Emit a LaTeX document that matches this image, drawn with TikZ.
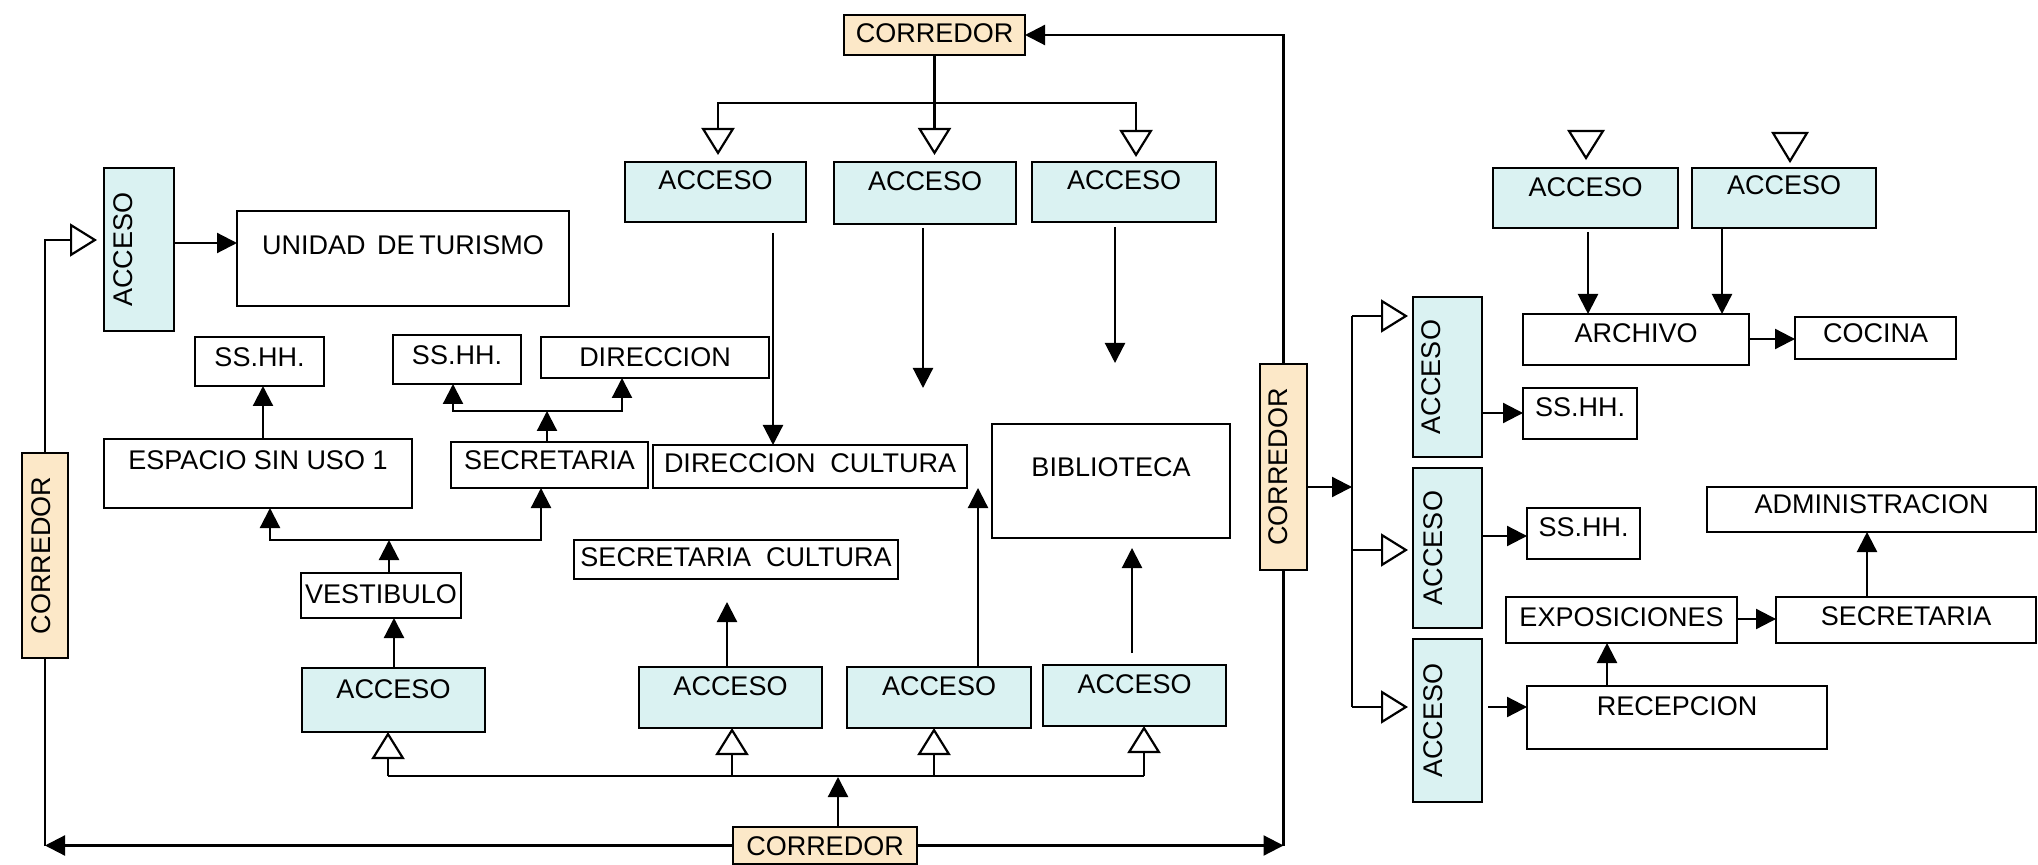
\documentclass[tikz,border=0pt]{standalone}
\usepackage{fontspec}
\setmainfont{Liberation Sans}
\usetikzlibrary{arrows.meta}
\definecolor{accfill}{RGB}{218,242,242}
\definecolor{corfill}{RGB}{252,232,200}
\newcommand\roomfont{\fontsize{13.5}{16}\selectfont}
% horizontal box: name, x1, y1, x2, y2, baseline y, style, text
\newcommand\roomH[8]{%
  \pgfmathsetmacro\rmW{(#4-#2)*0.5}%
  \pgfmathsetmacro\rmH{(#6-#3)*0.5}%
  \pgfmathsetmacro\rmD{(#5-#6)*0.5}%
  \node[#7, anchor=north west, minimum width=\rmW pt, text height=\rmH pt, text depth=\rmD pt] (#1) at (#2,#3) {#8};}
% vertical box (text rotated): name, x1, y1, x2, y2, baseline x, style, text
\newcommand\roomV[8]{%
  \pgfmathsetmacro\rmW{(#5-#3)*0.5}%
  \pgfmathsetmacro\rmH{(#6-#2)*0.5}%
  \pgfmathsetmacro\rmD{(#4-#6)*0.5}%
  \pgfmathsetmacro\rmX{(#2+#4)/2}%
  \pgfmathsetmacro\rmY{(#3+#5)/2}%
  \node[#7, rotate=90, minimum width=\rmW pt, text height=\rmH pt, text depth=\rmD pt] (#1) at (\rmX,\rmY) {#8};}
\begin{document}
\begin{tikzpicture}[x=0.5pt,y=-0.5pt,
  room/.style={draw, line width=1.1pt, inner sep=0pt, outer sep=0pt, font=\roomfont, fill=white},
  acc/.style={room, fill=accfill},
  cor/.style={room, fill=corfill},
  arr/.style={line width=1.1pt, -{Triangle[length=10pt,width=10pt]}},
  oarr/.style={line width=1.1pt, line join=miter, -{Triangle[length=13.5pt,width=16.5pt,fill=white]}},
  tri/.style={line width=1.1pt, line join=miter, fill=white},
  wire/.style={line width=1.1pt}]
\path[fill=white, use as bounding box] (0,0) rectangle (2038,865);

% ---------- boxes ----------
\roomH{corT}{844}{15}{1025}{55}{43}{cor}{CORREDOR}
\roomH{aT1}{625}{162}{806}{222}{190}{acc}{ACCESO}
\roomH{aT2}{834}{162}{1016}{224}{191}{acc}{ACCESO}
\roomH{aT3}{1032}{162}{1216}{222}{190}{acc}{ACCESO}
\roomV{accL}{104}{168}{174}{331}{132}{acc}{ACCESO}
\roomH{unidad}{237}{211}{569}{306}{255}{room}{UNIDAD\hspace{0.15em} DE\hspace{-0.1em} TURISMO}
\roomH{ssA}{195}{337}{324}{386}{367}{room}{SS.HH.}
\roomH{ssB}{393}{335}{521}{384}{365}{room}{SS.HH.}
\roomH{dir}{541}{337}{769}{378}{367}{room}{DIRECCION}
\roomH{esp}{104}{439}{412}{508}{470}{room}{ESPACIO SIN USO 1}
\roomH{sec}{451}{442}{648}{488}{470}{room}{SECRETARIA}
\roomH{dircul}{653}{445}{967}{488}{473}{room}{DIRECCION\ \ CULTURA}
\roomH{bib}{992}{424}{1230}{538}{477}{room}{BIBLIOTECA}
\roomH{seccul}{574}{540}{898}{579}{567}{room}{SECRETARIA\ \ CULTURA}
\roomH{vest}{301}{573}{461}{618}{603}{room}{VESTIBULO}
\roomH{aB1}{302}{668}{485}{732}{698}{acc}{ACCESO}
\roomH{aB2}{639}{667}{822}{728}{695}{acc}{ACCESO}
\roomH{aB3}{847}{667}{1031}{728}{695}{acc}{ACCESO}
\roomH{aB4}{1043}{665}{1226}{726}{693}{acc}{ACCESO}
\roomH{corB}{733}{827}{917}{864}{855}{cor}{CORREDOR}
\roomV{corL}{22}{453}{68}{658}{50}{cor}{CORREDOR}
\roomV{corR}{1260}{364}{1307}{570}{1287}{cor}{CORREDOR}
\roomV{aV1}{1413}{297}{1482}{457}{1440}{acc}{ACCESO}
\roomV{aV2}{1413}{468}{1482}{628}{1442}{acc}{ACCESO}
\roomV{aV3}{1413}{639}{1482}{802}{1442}{acc}{ACCESO}
\roomH{aTR1}{1493}{168}{1678}{228}{197}{acc}{ACCESO}
\roomH{aTR2}{1692}{168}{1876}{228}{195}{acc}{ACCESO}
\roomH{arch}{1523}{314}{1749}{365}{343}{room}{ARCHIVO}
\roomH{coc}{1795}{317}{1956}{359}{343}{room}{COCINA}
\roomH{ssC}{1523}{388}{1637}{439}{417}{room}{SS.HH.}
\roomH{ssD}{1527}{508}{1640}{559}{537}{room}{SS.HH.}
\roomH{admin}{1707}{487}{2036}{532}{514}{room}{ADMINISTRACION}
\roomH{expo}{1506}{597}{1737}{643}{626}{room}{EXPOSICIONES}
\roomH{secR}{1776}{597}{2036}{643}{625}{room}{SECRETARIA}
\roomH{recep}{1527}{686}{1827}{749}{715}{room}{RECEPCION}

% ---------- top ----------
\draw[oarr] (corT.south) -- (corT.south |- 0,155);
\draw[oarr] (corT.south |- 0,103) -| (718,155);
\draw[oarr] (corT.south |- 0,103) -| (1136,157);
\draw[arr] (773,233) -- (dircul.north -| 773,0);
\draw[arr] (923,228) -- (923,388);
\draw[arr] (1115,227) -- (1115,363);
\draw[arr] (corR.east) |- (corT.east);

% ---------- left ----------
\draw[oarr] (corL.east) |- (97,240);
\draw[arr] (accL.south |- 0,243) -- (unidad.west |- 0,243);
\draw[arr] (esp.north -| 263,0) -- (ssA.south -| 263,0);
\draw[arr] (sec.north -| 547,0) -- (547,411);
\draw[arr] (547,411) -| (ssB.south -| 453,0);
\draw[arr] (547,411) -| (dir.south -| 622,0);
\draw[arr] (aB1.north -| 394,0) -- (vest.south -| 394,0);
\draw[arr] (vest.north -| 389,0) -- (389,540);
\draw[arr] (389,540) -| (esp.south -| 270,0);
\draw[arr] (389,540) -| (sec.south -| 541,0);
\draw[arr] (aB2.north -| 727,0) -- (727,602);
\draw[arr] (aB3.north -| 978,0) -- (dircul.south -| 978,0);
\draw[arr] (1132,653) -- (1132,548);

% ---------- bottom ----------
\draw[arr] (corB.north -| 838,0) -- (838,777);
\draw[wire] (388,776) -- (1144,776);
\draw[oarr] (388,776) -- (aB1.south -| 388,0);
\draw[oarr] (732,776) -- (aB2.south -| 732,0);
\draw[oarr] (934,776) -- (aB3.south -| 934,0);
\draw[oarr] (1144,776) -- (aB4.south -| 1144,0);
\draw[wire] (corL.west) -- (corL.west |- corB.west);
\draw[arr] (corB.west) -- (corL.west |- corB.west);
\draw[wire] (corR.west) -- (corR.west |- corB.east);
\draw[arr] (corB.east) -- (corR.west |- corB.east);

% ---------- right ----------
\draw[arr] (corR.south |- 0,487) -- (1352,487);
\draw[wire] (1352,316) -- (1352,707);
\draw[oarr] (1352,316) -- (1408,316);
\draw[oarr] (1352,550) -- (1408,550);
\draw[oarr] (1352,707) -- (1408,707);
\draw[arr] (aV1.south |- 0,413) -- (ssC.west |- 0,413);
\draw[arr] (aV2.south |- 0,536) -- (ssD.west |- 0,536);
\draw[arr] (1488,707) -- (recep.west |- 0,707);
\draw[arr] (1588,232) -- (arch.north -| 1588,0);
\draw[arr] (aTR2.south -| 1722,0) -- (arch.north -| 1722,0);
\draw[arr] (arch.east |- 0,339) -- (coc.west |- 0,339);
\draw[arr] (expo.east |- 0,619) -- (secR.west |- 0,619);
\draw[arr] (secR.north -| 1867,0) -- (admin.south -| 1867,0);
\draw[arr] (recep.north -| 1607,0) -- (expo.south -| 1607,0);
\draw[tri] (1569,131) -- (1603,131) -- (1586,158) -- cycle;
\draw[tri] (1773,133) -- (1807,133) -- (1790,161) -- cycle;
\end{tikzpicture}
\end{document}
